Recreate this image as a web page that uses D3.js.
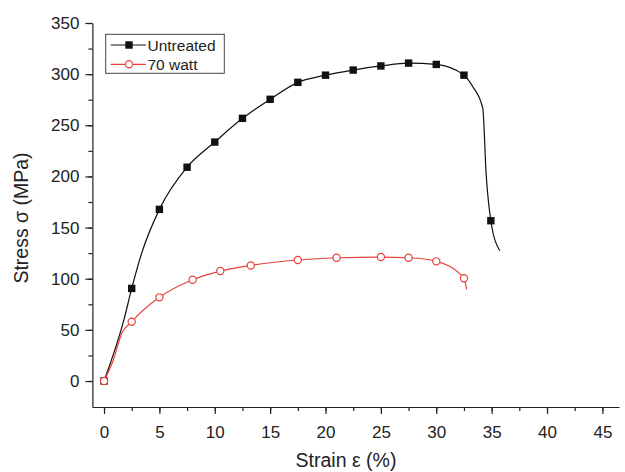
<!DOCTYPE html>
<html>
<head>
<meta charset="utf-8">
<script src="https://cdn.jsdelivr.net/npm/d3@7"></script>
<style>
  body { margin: 0; background: #fff; }
  svg { display: block; font-family: "Liberation Sans", Arial, sans-serif; }
  .axis path, .axis line { stroke: #222; stroke-width: 1.2; }
  .axis text { fill: #222; font-size: 17px; }
</style>
</head>
<body>
<div id="chart"></div>
<script>
'use strict';

// markers
var untreatedX = [0, 2.5, 5, 7.5, 10, 12.5, 15, 17.5, 20, 22.5, 25, 27.5, 30, 32.5, 34.93];
var untreatedY = [0, 90.5, 167.8, 209, 233.6, 256.8, 275.4, 292, 299, 304, 308, 310.8, 309.5, 299, 156.7];
var wattX = [0, 2.5, 5, 8, 10.5, 13.25, 17.5, 21, 25, 27.5, 30, 32.5];
var wattY = [0, 58, 81.8, 99, 107.5, 113, 118.3, 120.5, 121.2, 120.5, 117, 100.4];

// the drawn curves (markers plus extra points)
var untreatedLineX = [0, 1.8, 2.5, 3.4, 5, 7.5, 10, 12.5, 15, 17.5, 20, 22.5, 25, 27.5, 30, 32.5, 33.3, 34.2, 34.5, 34.93, 35.74];
var untreatedLineY = [0, 60, 90.5, 125, 167.8, 209, 233.6, 256.8, 275.4, 292, 299, 304, 308, 310.8, 309.5, 299, 287.7, 266.5, 203, 156.7, 127.4];
var wattLineX = [0, 0.84, 1.6, 2.5, 5, 8, 10.5, 13.25, 17.5, 21, 25, 27.5, 30, 32.5, 32.74];
var wattLineY = [0, 20.5, 46.6, 58, 81.8, 99, 107.5, 113, 118.3, 120.5, 121.2, 120.5, 117, 100.4, 89.6];

var xTicks = [0, 5, 10, 15, 20, 25, 30, 35, 40, 45];
var yTicks = [0, 50, 100, 150, 200, 250, 300, 350];

var W = 625, H = 472;
var svg = d3.select('#chart').append('svg').attr('width', W).attr('height', H);

var x = d3.scaleLinear().domain([-1.05, 46.5]).range([92.4, 619]);
var y = d3.scaleLinear().domain([-25.4, 350]).range([407, 23]);

var xMinor = d3.range(0, 46.5, 2.5);
var yMinor = d3.range(0, 351, 25);

// minor ticks first, then major axes on top
svg.append('g').attr('class', 'axis')
	.attr('transform', 'translate(0,' + y(-25.4) + ')')
	.call(d3.axisBottom(x).tickValues(xMinor).tickSize(4).tickFormat(''))
	.select('.domain').remove();
svg.append('g').attr('class', 'axis')
	.attr('transform', 'translate(' + x(-1.05) + ',0)')
	.call(d3.axisLeft(y).tickValues(yMinor).tickSize(4).tickFormat(''))
	.select('.domain').remove();

svg.append('g').attr('class', 'axis')
	.attr('transform', 'translate(0,' + y(-25.4) + ')')
	.call(d3.axisBottom(x).tickValues(xTicks).tickSize(7).tickSizeOuter(0).tickPadding(12));
svg.append('g').attr('class', 'axis')
	.attr('transform', 'translate(' + x(-1.05) + ',0)')
	.call(d3.axisLeft(y).tickValues(yTicks).tickSize(7).tickSizeOuter(0).tickPadding(6));

svg.append('text')
	.attr('x', 346).attr('y', 467)
	.attr('text-anchor', 'middle')
	.attr('font-size', 19.5).attr('fill', '#222')
	.text('Strain ε (%)');
svg.append('text')
	.attr('transform', 'translate(28,218) rotate(-90)')
	.attr('text-anchor', 'middle')
	.attr('font-size', 19.5).attr('fill', '#222')
	.text('Stress σ (MPa)');

var line = d3.line()
	.x(function (d) { return x(d[0]); })
	.y(function (d) { return y(d[1]); })
	.curve(d3.curveMonotoneX);

var red = '#e8423a';

svg.append('path')
	.datum(d3.zip(untreatedLineX, untreatedLineY))
	.attr('d', line).attr('fill', 'none').attr('stroke', '#111').attr('stroke-width', 1.2);
svg.append('path')
	.datum(d3.zip(wattLineX, wattLineY))
	.attr('d', line).attr('fill', 'none').attr('stroke', red).attr('stroke-width', 1.2);

svg.append('g').selectAll('rect')
	.data(d3.zip(untreatedX, untreatedY))
	.join('rect')
	.attr('x', function (d) { return x(d[0]) - 3.7; })
	.attr('y', function (d) { return y(d[1]) - 3.7; })
	.attr('width', 7.4).attr('height', 7.4)
	.attr('fill', '#111');

svg.append('g').selectAll('circle')
	.data(d3.zip(wattX, wattY))
	.join('circle')
	.attr('cx', function (d) { return x(d[0]); })
	.attr('cy', function (d) { return y(d[1]); })
	.attr('r', 3.6)
	.attr('fill', '#fff').attr('stroke', red).attr('stroke-width', 1.2);

// legend
var lg = svg.append('g');
lg.append('rect')
	.attr('x', 105.7).attr('y', 34.3).attr('width', 118.6).attr('height', 39)
	.attr('fill', '#fff').attr('stroke', '#444').attr('stroke-width', 1);
var items = [
	{ name: 'Untreated', color: '#111', shape: 'square' },
	{ name: '70 watt', color: red, shape: 'circle' }
];
items.forEach(function (it, i) {
	var cy = 45 + i * 19.3;
	lg.append('line')
		.attr('x1', 110.7).attr('x2', 146).attr('y1', cy).attr('y2', cy)
		.attr('stroke', it.color).attr('stroke-width', 1.2);
	if (it.shape === 'square') {
		lg.append('rect').attr('x', 129 - 3.7).attr('y', cy - 3.7)
			.attr('width', 7.4).attr('height', 7.4).attr('fill', it.color);
	} else {
		lg.append('circle').attr('cx', 129).attr('cy', cy).attr('r', 3.6)
			.attr('fill', '#fff').attr('stroke', it.color).attr('stroke-width', 1.2);
	}
	lg.append('text')
		.attr('x', 147.5).attr('y', cy).attr('dy', '0.36em')
		.attr('font-size', 15.5).attr('fill', '#222')
		.text(it.name);
});
</script>
</body>
</html>
